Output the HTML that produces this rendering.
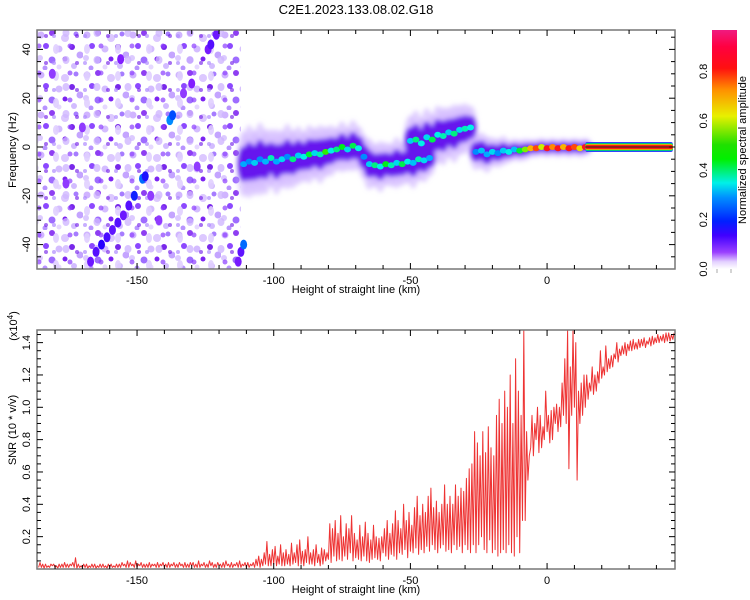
<!DOCTYPE html>
<html><head><meta charset="utf-8">
<style>
html,body{margin:0;padding:0;background:#fff;}
svg{display:block;font-family:"Liberation Sans",sans-serif;}
text{fill:#000;}
</style></head>
<body>
<svg id="chart" width="750" height="600" viewBox="0 0 750 600" xmlns="http://www.w3.org/2000/svg">
<defs>
  <pattern id="noisePat" x="37" y="30" width="46" height="40" patternUnits="userSpaceOnUse">
    <circle cx="4" cy="5" r="3.5" fill="#d0b4ff"/>
    <circle cx="15" cy="3" r="3" fill="#7a1cf0" opacity="0.85"/>
    <circle cx="28" cy="8" r="4" fill="#dcc8ff"/>
    <circle cx="39" cy="4" r="2.5" fill="#a67cff"/>
    <circle cx="9" cy="16" r="3" fill="#8c48ff"/>
    <circle cx="22" cy="19" r="3.5" fill="#d4bcff"/>
    <circle cx="35" cy="17" r="3" fill="#6a10e8" opacity="0.9"/>
    <circle cx="43" cy="25" r="3.5" fill="#c4a4ff"/>
    <circle cx="3" cy="28" r="3" fill="#dccaff"/>
    <circle cx="15" cy="30" r="3.5" fill="#9e6cff"/>
    <circle cx="28" cy="29" r="2.5" fill="#7c24f2"/>
    <circle cx="37" cy="36" r="3" fill="#d2bcff"/>
    <circle cx="8" cy="38" r="2.5" fill="#b894ff"/>
    <circle cx="22" cy="37" r="2.5" fill="#e6d8ff"/>
  </pattern>
  <pattern id="noisePat2" x="50" y="41" width="31" height="27" patternUnits="userSpaceOnUse">
    <ellipse cx="6" cy="8" rx="3" ry="5" fill="#e0d0ff" opacity="0.9"/>
    <circle cx="20" cy="5" r="2.5" fill="#8a3cff" opacity="0.7"/>
    <ellipse cx="16" cy="19" rx="3.5" ry="4" fill="#cfb6ff" opacity="0.8"/>
    <circle cx="27" cy="22" r="2" fill="#6a10e8" opacity="0.6"/>
    <circle cx="4" cy="22" r="2" fill="#b08cff" opacity="0.7"/>
  </pattern>
  <filter id="blur" x="-50%" y="-50%" width="200%" height="200%"><feGaussianBlur stdDeviation="2.5"/></filter>
  <linearGradient id="cbar" x1="0" y1="1" x2="0" y2="0">
    <stop offset="0" stop-color="#ffffff"/>
    <stop offset="0.03" stop-color="#e4d2ff"/>
    <stop offset="0.07" stop-color="#9a40ff"/>
    <stop offset="0.14" stop-color="#4000ff"/>
    <stop offset="0.2" stop-color="#0020ff"/>
    <stop offset="0.3" stop-color="#0090ff"/>
    <stop offset="0.36" stop-color="#00f0e8"/>
    <stop offset="0.46" stop-color="#00f000"/>
    <stop offset="0.52" stop-color="#20e000"/>
    <stop offset="0.64" stop-color="#e8f000"/>
    <stop offset="0.75" stop-color="#ff9000"/>
    <stop offset="0.84" stop-color="#ff1010"/>
    <stop offset="0.93" stop-color="#ff0040"/>
    <stop offset="1" stop-color="#f01a80"/>
  </linearGradient>
  <clipPath id="clipTop"><rect x="37" y="30" width="638" height="239"/></clipPath>
  <clipPath id="clipBot"><rect x="37" y="330" width="638" height="239"/></clipPath>
</defs>

<text x="356" y="14" font-size="13" text-anchor="middle">C2E1.2023.133.08.02.G18</text>

<g id="topPlot">
  <g clip-path="url(#clipTop)" id="specMarks"></g>
  <rect x="37" y="30" width="638" height="239" fill="none" stroke="#777" stroke-width="1.5"/>
  <g id="topAxes"></g>
  <text x="356" y="293" font-size="11" text-anchor="middle">Height of straight line (km)</text>
  <text transform="translate(16,150) rotate(-90)" font-size="11" text-anchor="middle">Frequency (Hz)</text>
</g>

<g id="colorbar">
  <rect x="712" y="30" width="25" height="239" fill="url(#cbar)"/>
  <g id="cbarTicks"></g>
  <text transform="translate(746,150) rotate(-90)" font-size="11" text-anchor="middle">Normalized spectral amplitude</text>
</g>

<g id="botPlot">
  <g clip-path="url(#clipBot)" id="snrMarks"></g>
  <rect x="37" y="330" width="638" height="239" fill="none" stroke="#777" stroke-width="1.5"/>
  <g id="botAxes"></g>
  <text x="356" y="593" font-size="11" text-anchor="middle">Height of straight line (km)</text>
  <text transform="translate(16,430) rotate(-90)" font-size="11" text-anchor="middle">SNR (10 * v/v)</text>
  <text transform="translate(17,326) rotate(-90)" font-size="11" text-anchor="middle">(x10<tspan dy="-4" font-size="8">4</tspan><tspan dy="4">)</tspan></text>
</g>
</svg>

<script>
// ---------- data ----------
const xTicks = [-150, -100, -50, 0];
const fTicks = [40, 20, 0, -20, -40];
const snrTicks = [0.2, 0.4, 0.6, 0.8, 1.0, 1.2, 1.4];
const cbarTicks = [0.0, 0.2, 0.4, 0.6, 0.8];

// spectrogram main track (height km, frequency Hz, amplitude 0..1)
const trackH = [-111,-109,-107,-105,-103,-101,-99,-97,-95,-93,-91,-89,-87,-85,-83,-81,-79,-77,-75,-73,-71,-69,-67,-65,-63,-61,-59,-57,-55,-53,-51,-49,-47,-45,-43,-50,-48,-46,-44,-42,-40,-38,-36,-34,-32,-30,-28,-26,-24,-22,-20,-18,-16,-14,-12,-10,-8,-6,-4,-2,0,2,4,6,8,10,12,14];
const trackF = [-7,-6,-6.5,-5,-6,-4.5,-6,-5,-4,-5,-3.5,-4,-3,-2.5,-3,-2,-1.5,-1,0,-1,0.5,-0.5,-4,-7,-7.5,-8,-7,-7.5,-6.5,-7,-6,-6.5,-5,-5.5,-4.5,2.5,3,1.5,4,3,5,4.5,6,5.5,7,7.5,8,-2,-1.5,-3,-2,-2.5,-1.5,-2,-1,-1.5,-1,-0.5,-0.5,0,-0.5,0,-0.5,0,-0.5,0,-0.5,0];
const trackA = [0.32,0.3,0.35,0.3,0.33,0.4,0.32,0.36,0.3,0.42,0.35,0.38,0.45,0.36,0.4,0.5,0.38,0.42,0.46,0.36,0.44,0.38,0.3,0.35,0.42,0.38,0.46,0.4,0.36,0.44,0.38,0.34,0.4,0.36,0.32,0.35,0.42,0.38,0.36,0.44,0.38,0.4,0.35,0.42,0.36,0.4,0.38,0.3,0.34,0.32,0.36,0.3,0.35,0.38,0.34,0.45,0.55,0.7,0.8,0.6,0.85,0.75,0.85,0.7,0.85,0.8,0.65,0.85];
// vertical spread of the diffuse cloud (Hz)
const trackW = [9,10,9,10,9,8,9,8,9,8,8,7,8,7,8,7,7,6,7,6,7,6,6,7,6,7,6,6,7,6,6,7,6,6,5,7,8,7,8,7,8,8,7,8,7,7,6,5,5,5,4,4,4,3,3,3,3,2.5,2.5,2.5,2.5,2.5,2.5,2.5,2.5,2.5,2.5,2.5];

// isolated stronger blobs in the noisy region (height km, frequency Hz, amplitude)
const blobH = [-167,-165,-163,-161,-159,-157,-155,-153,-151,-148,-147,-138,-137,-124,-123,-121,-113,-112,-111,-133,-130,-142,-128,-156,-170,-176,-181,-145];
const blobF = [-47,-43,-40,-37,-34,-31,-28,-24,-20,-13,-12,11,13,40,42,46,-47,-43,-40,22,26,-30,-8,36,8,-15,30,-20];
const blobA = [0.12,0.14,0.18,0.15,0.13,0.14,0.12,0.14,0.22,0.28,0.2,0.3,0.26,0.11,0.14,0.12,0.11,0.13,0.28,0.09,0.1,0.09,0.09,0.1,0.09,0.09,0.09,0.09];

// constant-frequency strong line
const lineStartH = 14;
const lineEndH = 46;
const lineF = 0;

// SNR (x10^4): per-km lower / upper envelope from -186 km to 46 km
const snrStartH = -186;
const snrHi = [
 .04,.03,.03,.02,.03,.03,.02,.03,.03,.04,
 .03,.03,.04,.07,.03,.02,.03,.03,.02,.03,
 .03,.02,.03,.03,.02,.03,.03,.02,.03,.03,
 .04,.03,.05,.04,.03,.05,.03,.04,.03,.03,
 .04,.03,.03,.04,.03,.04,.03,.04,.03,.04,
 .03,.04,.03,.04,.03,.04,.04,.03,.05,.03,
 .04,.03,.05,.04,.03,.04,.03,.04,.05,.03,
 .04,.03,.04,.05,.03,.04,.04,.03,.04,.06,
 .08,.06,.1,.17,.09,.12,.14,.08,.15,.1,
 .12,.09,.16,.1,.15,.18,.11,.12,.2,.1,
 .12,.15,.09,.13,.12,.1,.28,.25,.3,.22,
 .33,.2,.28,.25,.33,.22,.18,.27,.2,.29,
 .22,.18,.27,.2,.19,.2,.25,.3,.22,.28,
 .36,.3,.25,.4,.3,.35,.27,.38,.45,.33,
 .4,.35,.45,.5,.38,.42,.35,.4,.52,.4,
 .45,.4,.52,.45,.5,.48,.56,.62,.65,.85,
 .78,.7,.85,.72,.88,.75,.7,.95,1.05,.9,
 1.1,1.0,1.2,.9,1.3,1.1,.95,1.48,.85,.7,
 .95,.9,1.0,.95,.88,1.1,.95,.98,1.0,1.02,
 1.0,1.15,1.3,1.48,1.25,1.48,1.4,1.1,1.15,1.2,
 1.2,1.15,1.25,1.2,1.22,1.35,1.25,1.38,1.3,1.32,
 1.33,1.4,1.36,1.38,1.4,1.39,1.41,1.42,1.4,1.42,
 1.42,1.43,1.41,1.43,1.44,1.43,1.45,1.44,1.45,1.46,
 1.46,1.45,1.46];
const snrLo = [
 .01,.01,.005,.01,.01,.02,.01,.005,.01,.01,
 .01,.01,.02,.01,.005,.01,.01,.01,.005,.01,
 .01,.005,.01,.01,.01,.005,.01,.01,.01,.01,
 .01,.02,.01,.01,.02,.01,.01,.02,.01,.01,
 .01,.01,.02,.01,.01,.02,.01,.01,.01,.02,
 .01,.01,.02,.01,.01,.01,.02,.01,.01,.01,
 .02,.01,.01,.02,.01,.01,.02,.01,.01,.02,
 .01,.01,.02,.01,.01,.02,.01,.01,.02,.01,
 .02,.01,.02,.03,.02,.02,.03,.02,.03,.02,
 .02,.03,.02,.03,.04,.02,.03,.02,.04,.03,
 .03,.02,.04,.02,.03,.05,.06,.04,.08,.05,
 .06,.05,.08,.06,.1,.05,.07,.06,.05,.08,
 .05,.04,.06,.07,.06,.05,.1,.08,.06,.09,
 .08,.06,.1,.09,.12,.07,.11,.1,.13,.09,
 .12,.1,.14,.11,.15,.12,.1,.13,.15,.11,
 .12,.1,.15,.12,.14,.1,.15,.12,.1,.15,
 .1,.15,.2,.12,.1,.18,.1,.12,.08,.1,
 .12,.1,.15,.1,.08,.2,.1,.3,.3,.55,
 .75,.7,.8,.72,.75,.8,.85,.78,.8,.9,
 .85,.88,.95,.9,.62,.95,1.0,.55,.9,.95,
 1.0,1.05,1.1,1.08,1.1,1.15,1.18,1.2,1.22,1.24,
 1.25,1.3,1.28,1.32,1.33,1.32,1.35,1.35,1.36,1.36,
 1.37,1.38,1.37,1.39,1.38,1.39,1.4,1.4,1.41,1.4,
 1.41,1.41,1.42];

// ---------- axis functions ----------
const X0 = 37, X1 = 675, H0 = -186.6, H1 = 46.8;
function xS(h){ return X0 + (h - H0) / (H1 - H0) * (X1 - X0); }
function yF(f){ return 147 - f * 2.44; }
function yS(v){ return 569 - v * 161.7; }
function yC(v){ return 269 - v * 247; }

function cmap(a){
  const stops = [[0,[255,255,255]],[0.05,[200,170,255]],[0.1,[130,30,255]],[0.18,[40,0,255]],[0.25,[0,60,255]],[0.32,[0,170,255]],[0.38,[0,240,230]],[0.47,[0,240,0]],[0.62,[230,240,0]],[0.74,[255,150,0]],[0.84,[255,20,20]],[1,[240,30,130]]];
  for (let i=1;i<stops.length;i++){
    if (a <= stops[i][0]){
      const p0=stops[i-1][0], c0=stops[i-1][1], p1=stops[i][0], c1=stops[i][1];
      const t=(a-p0)/(p1-p0);
      return 'rgb('+c0.map((c,k)=>Math.round(c+(c1[k]-c)*t)).join(',')+')';
    }
  }
  return 'rgb(240,30,130)';
}

const NS = 'http://www.w3.org/2000/svg';
function mk(tag, attrs, parent){
  const e = document.createElementNS(NS, tag);
  for (const k in attrs) e.setAttribute(k, attrs[k]);
  parent.appendChild(e);
  return e;
}

// ---------- spectrogram ----------
const spec = document.getElementById('specMarks');
const noise = mk('rect', {x:37, y:30, width:xS(-112)-37, height:239, fill:'url(#noisePat)'}, spec);


const noise2 = mk('rect', {x:37, y:30, width:xS(-114)-37, height:239, fill:'url(#noisePat2)'}, spec);



for (let i=0;i<blobH.length;i++){
  const c = mk('ellipse', {cx:xS(blobH[i]), cy:yF(blobF[i]), rx:3.5, ry:5, fill:cmap(blobA[i])}, spec);
  
  
}

const haloG = mk('g', {filter:'url(#blur)'}, spec);


for (let i=0;i<trackH.length;i++){
  const h = mk('ellipse', {cx:xS(trackH[i]), cy:yF(trackF[i]), rx:7, ry:trackW[i]*2.44*1.5, fill:'#cdb0ff', opacity:0.6}, haloG);
  
  
}
for (let i=0;i<trackH.length;i++){
  const h = mk('ellipse', {cx:xS(trackH[i]), cy:yF(trackF[i]), rx:6, ry:trackW[i]*2.44*0.8, fill:'#6614ee'}, haloG);
  
  
}
for (let i=0;i<trackH.length;i++){
  const h = mk('ellipse', {cx:xS(trackH[i]), cy:yF(trackF[i]), rx:3.5, ry:3, fill:cmap(trackA[i])}, spec);
  
  
}

const lx0 = xS(lineStartH), lx1 = xS(lineEndH), ly = yF(lineF);
const bands = [[5,'#4020ff'],[4.2,'#00b0ff'],[3.5,'#00e000'],[2.9,'#f0e000'],[2.3,'#ff2010']];
bands.forEach(function(b){
  const r = mk('rect', {x:lx0, y:ly-b[0], width:lx1-lx0, height:b[0]*2, fill:b[1], rx:2}, spec);
  
  
});
const ln = mk('line', {x1:lx0, y1:ly, x2:lx1, y2:ly, stroke:'#222', 'stroke-width':1}, spec);



// ---------- SNR ----------
const snrG = document.getElementById('snrMarks');
const pts = [];
for (let i=0;i<snrHi.length;i++){
  const h = snrStartH + i;
  pts.push(xS(h).toFixed(1)+','+yS(snrLo[i]).toFixed(1));
  pts.push(xS(h+0.5).toFixed(1)+','+yS(snrHi[i]).toFixed(1));
}
const pl = mk('polyline', {points:pts.join(' '), fill:'none', stroke:'#ee3333', 'stroke-width':1, 'stroke-linejoin':'round'}, snrG);



// ---------- axes ----------
function xAxis(g, yTop, yBot, labelY){
  for (let h=-180; h<=40; h+=10){
    const x = xS(h), L = (h % 50 === 0) ? 6 : 4;
    const t1 = mk('line', {x1:x, y1:yTop, x2:x, y2:yTop+L, stroke:'#000'}, g);
    
    
    const t2 = mk('line', {x1:x, y1:yBot, x2:x, y2:yBot-L, stroke:'#000'}, g);
    
    
  }
  xTicks.forEach(function(v){
    const t = mk('text', {x:xS(v), y:labelY, 'font-size':11, 'text-anchor':'middle'}, g);
    t.textContent = v;
    
    
  });
}
const topAx = document.getElementById('topAxes');
xAxis(topAx, 30, 269, 284);
for (let f=-45; f<=45; f+=5){
  const y = yF(f), L = (f % 20 === 0) ? 6 : 4;
  const a = mk('line', {x1:37, y1:y, x2:37+L, y2:y, stroke:'#000'}, topAx);
  
  
  const b = mk('line', {x1:675, y1:y, x2:675-L, y2:y, stroke:'#000'}, topAx);
  
  
}
fTicks.forEach(function(v){
  const y = yF(v);
  const t = mk('text', {transform:'translate(30,'+y+') rotate(-90)', 'font-size':11, 'text-anchor':'middle'}, topAx);
  t.textContent = v;
  
  
});

const botAx = document.getElementById('botAxes');
xAxis(botAx, 330, 569, 584);
for (let k=1; k<=29; k++){
  const v = k*0.05, y = yS(v), L = (k % 4 === 0) ? 6 : 4;
  const a = mk('line', {x1:37, y1:y, x2:37+L, y2:y, stroke:'#000'}, botAx);
  
  
  const b = mk('line', {x1:675, y1:y, x2:675-L, y2:y, stroke:'#000'}, botAx);
  
  
}
snrTicks.forEach(function(v){
  const y = yS(v);
  const t = mk('text', {transform:'translate(30,'+y+') rotate(-90)', 'font-size':11, 'text-anchor':'middle'}, botAx);
  t.textContent = v.toFixed(1);
  
  
});

const cb = document.getElementById('cbarTicks');
cbarTicks.forEach(function(v){
  const y = yC(v);
  const t = mk('text', {transform:'translate(707,'+y+') rotate(-90)', 'font-size':11, 'text-anchor':'middle'}, cb);
  t.textContent = v.toFixed(1);
  
  
});
[717,731].forEach(function(x){
  const l = mk('line', {x1:x, y1:269, x2:x, y2:273, stroke:'#aaa'}, cb);
  
  
});
</script>
</body></html>
